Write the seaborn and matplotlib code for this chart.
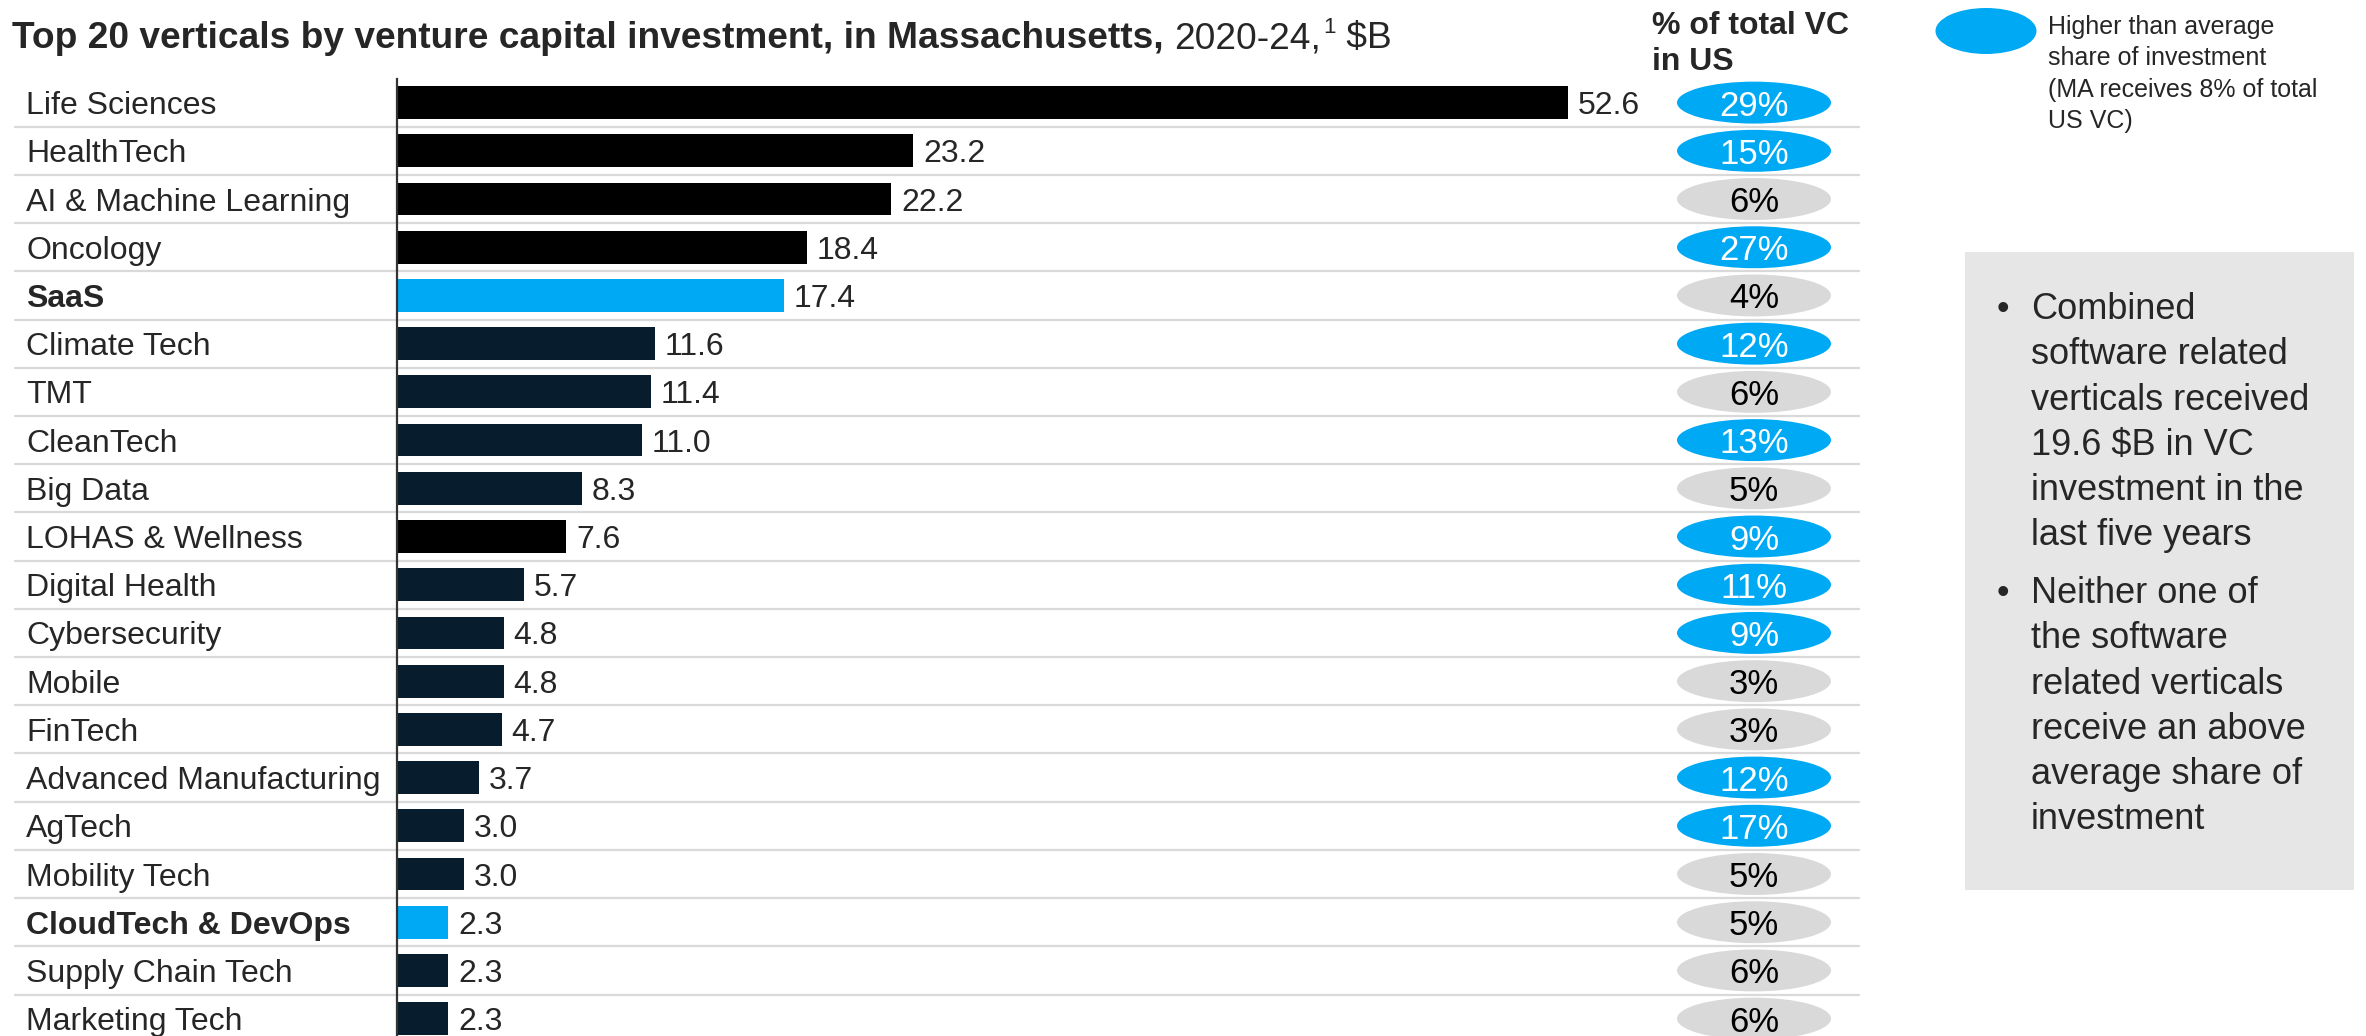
import matplotlib
matplotlib.use("Agg")
import matplotlib.pyplot as plt
from matplotlib.patches import Ellipse, Rectangle
import seaborn as sns

# data
categories = ["Life Sciences", "HealthTech", "AI & Machine Learning", "Oncology", "SaaS",
              "Climate Tech", "TMT", "CleanTech", "Big Data", "LOHAS & Wellness",
              "Digital Health", "Cybersecurity", "Mobile", "FinTech",
              "Advanced Manufacturing", "AgTech", "Mobility Tech", "CloudTech & DevOps",
              "Supply Chain Tech", "Marketing Tech"]
invest_bn = [52.6, 23.2, 22.2, 18.4, 17.4, 11.6, 11.4, 11.0, 8.3, 7.6,
             5.7, 4.8, 4.8, 4.7, 3.7, 3.0, 3.0, 2.3, 2.3, 2.3]
us_share_pct = [29, 15, 6, 27, 4, 12, 6, 13, 5, 9, 11, 9, 3, 3, 12, 17, 5, 5, 6, 6]
black_rows = ["Life Sciences", "HealthTech", "AI & Machine Learning", "Oncology", "LOHAS & Wellness"]
software_rows = ["SaaS", "CloudTech & DevOps"]
ma_avg_share = 8

title_bold = "Top 20 verticals by venture capital investment, in Massachusetts,"
title_rest = "2020-24,"
title_note = "1"
title_unit = " $B"
col_header = "% of total VC\nin US"
legend_text = "Higher than average\nshare of investment\n(MA receives 8% of total\nUS VC)"
bullets = ["Combined\nsoftware related\nverticals received\n19.6 $B in VC\ninvestment in the\nlast five years",
           "Neither one of\nthe software\nrelated verticals\nreceive an above\naverage share of\ninvestment"]

BLACK = "#000000"
NAVY = "#071C2C"
BLUE = "#00A9F4"
GREY = "#D9D9D9"
BOX = "#E6E6E6"

sns.set_style("white")
plt.rcParams["font.family"] = ["Liberation Sans", "DejaVu Sans"]

W, H = 2366, 1036
fig = plt.figure(figsize=(W / 100, H / 100), dpi=100)


def fx(px):
    return px / W


def fy(py):
    return 1 - py / H


bar_colors = []
for c in categories:
    if c in software_rows:
        bar_colors.append(BLUE)
    elif c in black_rows:
        bar_colors.append(BLACK)
    else:
        bar_colors.append(NAVY)

ax = fig.add_axes([fx(397), 0, fx(1859) - fx(397), fy(78.5)])
sns.barplot(x=invest_bn, y=categories, hue=categories,
            palette=dict(zip(categories, bar_colors)), legend=False,
            orient="h", width=0.68, saturation=1, linewidth=0, ax=ax)

px_per_unit = (1568 - 397) / 52.6
x_right = (1859 - 397) / px_per_unit
x_left_line = (15 - 397) / px_per_unit
x_label = (26 - 397) / px_per_unit
ax.set_xlim(0, x_right)
ax.set_ylim(19.36, -0.5)

for i in range(len(categories) - 1):
    ax.plot([x_left_line, x_right], [i + 0.5, i + 0.5], color=GREY, lw=1.6,
            clip_on=False, zorder=0)

for cont in ax.containers:
    for t in ax.bar_label(cont, fmt="%.1f", padding=7, fontsize=23):
        t.set_va("center_baseline")

ell_x = (1754 - 397) / px_per_unit
ell_w = 154 / px_per_unit
for i, (cat, pct) in enumerate(zip(categories, us_share_pct)):
    ax.text(x_label, i, cat, ha="left", va="center_baseline", fontsize=23,
            fontweight="bold" if cat in software_rows else "normal", clip_on=False)
    high = pct > ma_avg_share
    ax.add_patch(Ellipse((ell_x, i), ell_w, 0.87, facecolor=BLUE if high else GREY,
                         edgecolor="none", zorder=3))
    ax.text(ell_x, i, f"{pct}%", ha="center", va="center_baseline", fontsize=25,
            color="white" if high else "black", zorder=4)

ax.set_xticks([])
ax.set_yticks([])
ax.set_xlabel("")
ax.set_ylabel("")
for s in ["top", "right", "bottom"]:
    ax.spines[s].set_visible(False)
ax.spines["left"].set_color("#333333")
ax.spines["left"].set_linewidth(1.6)
ax.patch.set_alpha(0)

# title pieces
ty = 35
t1 = fig.text(fx(12), fy(ty), title_bold, fontsize=26.7, fontweight="bold",
              va="center_baseline")
fig.canvas.draw()
r = fig.canvas.get_renderer()
x1 = t1.get_window_extent(r).x1 + 10
t2 = fig.text(x1 / W, fy(ty), title_rest, fontsize=26.7, va="center_baseline")
x2 = t2.get_window_extent(r).x1 + 3
t3 = fig.text(x2 / W, fy(ty - 10), title_note, fontsize=16, va="center_baseline")
x3 = t3.get_window_extent(r).x1
fig.text(x3 / W, fy(ty), title_unit, fontsize=26.7, va="center_baseline")

fig.text(fx(1652), fy(44), col_header, fontsize=23, fontweight="bold",
         va="center", ha="left", linespacing=1.3)

# legend
fig.add_artist(Ellipse((fx(1986), fy(31)), fx(101), 46 / H, facecolor=BLUE,
                       edgecolor="none", transform=fig.transFigure))
fig.text(fx(2048), fy(74), legend_text, fontsize=18, va="center", ha="left",
         linespacing=1.38)

# side box
fig.add_artist(Rectangle((fx(1965), fy(890)), fx(2354) - fx(1965), (890 - 252) / H,
                         facecolor=BOX, edgecolor="none", transform=fig.transFigure))
for txt, ytop in zip(bullets, [292, 576]):
    fig.text(fx(1997), fy(ytop), "\u2022", fontsize=26, va="top", ha="left")
    fig.text(fx(2031), fy(ytop), txt, fontsize=26, va="top", ha="left",
             linespacing=1.38)

fig.savefig("out.png", dpi=100)
